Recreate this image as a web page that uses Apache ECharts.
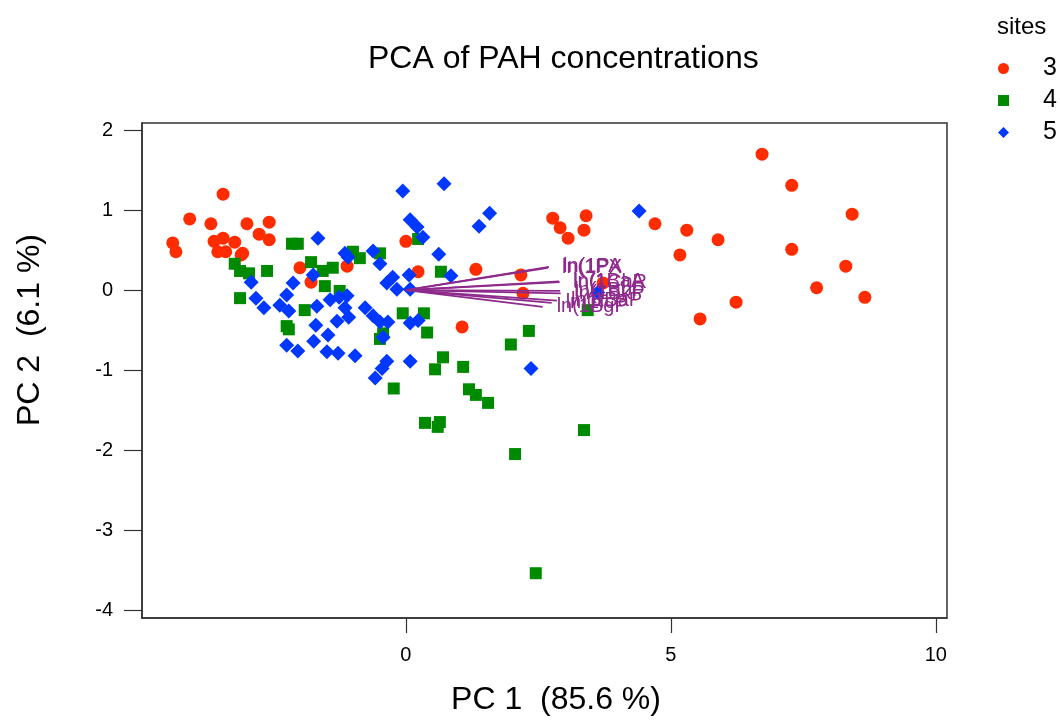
<!DOCTYPE html>
<html lang="en">
<head>
    <meta charset="UTF-8">
    <title>PCA of PAH concentrations</title>
    <script src="https://cdn.jsdelivr.net/npm/echarts@6/dist/echarts.min.js"></script>
    <style>
        html, body { margin: 0; padding: 0; background: #fff; }
        #chart_main { width: 1060px; height: 724px; }
    </style>
</head>
<body>
<div id="chart_main"></div>
<script>
  // site scores (PC1, PC2)
  var site3 = [
    [-4.40, 0.59], [-4.34, 0.48], [-4.08, 0.89], [-3.68, 0.83], [-3.45, 1.20],
    [-3.62, 0.61], [-3.45, 0.65], [-3.23, 0.60], [-3.55, 0.48], [-3.40, 0.48],
    [-3.08, 0.46], [-3.11, 0.44], [-3.00, 0.83], [-2.58, 0.85], [-2.77, 0.70],
    [-2.58, 0.63], [-2.00, 0.28], [-1.79, 0.10], [-1.11, 0.30], [0.00, 0.61],
    [0.23, 0.23], [1.32, 0.26], [2.17, 0.19], [2.21, -0.04], [1.06, -0.46],
    [2.77, 0.90], [2.91, 0.78], [3.06, 0.65], [3.40, 0.93], [3.36, 0.75],
    [3.72, 0.09], [4.70, 0.83], [5.30, 0.75], [5.89, 0.63], [5.17, 0.44],
    [6.72, 1.70], [7.28, 1.31], [8.42, 0.95], [7.28, 0.51], [8.30, 0.30],
    [7.75, 0.03], [8.66, -0.09], [6.23, -0.15], [5.55, -0.36]
  ];
  var site4 = [
    [-3.23, 0.33], [-3.13, 0.24], [-2.96, 0.21], [-2.62, 0.24], [-3.13, -0.10],
    [-2.15, 0.58], [-2.04, 0.58], [-1.79, 0.35], [-1.57, 0.24], [-1.38, 0.28],
    [-1.53, 0.05], [-1.25, -0.01], [-1.00, 0.48], [-0.87, 0.40], [-0.49, 0.46],
    [-1.91, -0.25], [-2.25, -0.45], [-2.21, -0.49], [-0.43, -0.54], [-0.49, -0.61],
    [-0.06, -0.29], [0.34, -0.29], [0.40, -0.53], [0.23, 0.64], [0.66, 0.23],
    [2.32, -0.51], [1.98, -0.68], [0.70, -0.84], [0.55, -0.99], [1.08, -0.96],
    [-0.23, -1.23], [1.19, -1.24], [1.32, -1.31], [1.55, -1.41], [0.36, -1.66],
    [0.64, -1.65], [0.60, -1.71], [3.36, -1.75], [2.06, -2.05], [2.45, -3.54],
    [3.43, -0.25]
  ];
  var site5 = [
    [-0.06, 1.24], [0.72, 1.33], [0.08, 0.88], [0.21, 0.79], [0.32, 0.66],
    [1.58, 0.96], [1.38, 0.80], [0.62, 0.45], [0.85, 0.18], [-1.66, 0.65],
    [-1.15, 0.46], [-1.09, 0.41], [-0.62, 0.49], [-0.49, 0.33], [-1.75, 0.19],
    [-2.92, 0.10], [-2.83, -0.10], [-2.68, -0.22], [-2.38, -0.19], [-2.21, -0.26],
    [-2.25, -0.06], [-2.13, 0.09], [-1.68, -0.20], [-1.43, -0.12], [-1.26, -0.09],
    [-1.11, -0.07], [-1.15, -0.22], [-1.08, -0.34], [-1.30, -0.39], [-1.70, -0.44],
    [-1.47, -0.56], [-1.74, -0.64], [-2.25, -0.69], [-2.04, -0.76], [-1.49, -0.77],
    [-1.28, -0.79], [-0.96, -0.82], [-0.77, -0.22], [-0.62, -0.32], [-0.49, -0.40],
    [-0.34, -0.40], [-0.43, -0.59], [-0.36, -0.89], [-0.45, -0.98], [-0.58, -1.10],
    [0.08, -0.89], [0.08, -0.41], [0.23, -0.38], [-0.25, 0.16], [-0.36, 0.09],
    [-0.17, 0.01], [0.06, 0.19], [0.08, 0.01], [2.36, -0.98], [4.40, 0.99],
    [3.62, -0.03]
  ];

  // loading vectors (arrow tips)
  var loadNames = ['ln(1PA', 'ln(1PX', 'ln(1BaA', 'ln(1ChR', 'ln(1BbF', 'ln(1BkP', 'ln(1BaP', 'ln(1IcP', 'ln(1BgP'];
  var loadTips = [
    [2.70, 0.29], [2.68, 0.28], [2.89, 0.11], [2.90, 0.10], [2.91, -0.01],
    [2.92, -0.04], [2.85, -0.13], [2.75, -0.16], [2.58, -0.21]
  ];

  var siteNames = ['3', '4', '5'];
  var xTicks = [0, 5, 10];
  var yTicks = [-4, -3, -2, -1, 0, 1, 2];

  var FONT = '"Liberation Sans", Arial, sans-serif';
  var PURPLE = '#8e2a8c';

  var myChart = echarts.init(document.getElementById('chart_main'), null, {renderer: 'canvas'});

  var series = [
    {
      name: siteNames[0], type: 'scatter', data: site3,
      symbol: 'circle', symbolSize: 13,
      itemStyle: {color: '#ff2c00', opacity: 1}
    },
    {
      name: siteNames[1], type: 'scatter', data: site4,
      symbol: 'rect', symbolSize: 12,
      itemStyle: {color: '#008a00', opacity: 1}
    },
    {
      name: siteNames[2], type: 'scatter', data: site5,
      symbol: 'diamond', symbolSize: 15,
      itemStyle: {color: '#0038ff', opacity: 1}
    }
  ];

  for (var i = 0; i < loadTips.length; i++) {
    series.push({
      name: loadNames[i],
      type: 'line',
      data: [[0, 0], loadTips[i]],
      symbol: 'none',
      silent: true,
      lineStyle: {color: PURPLE, width: 1.8},
      endLabel: {
        show: true,
        formatter: loadNames[i],
        color: PURPLE,
        fontFamily: FONT,
        fontSize: 20,
        distance: 14
      },
      z: 5
    });
  }

  var option = {
    animation: false,
    backgroundColor: '#fff',
    textStyle: {fontFamily: FONT},
    title: [
      {
        text: 'PCA of PAH concentrations',
        left: 363, top: 38,
        textStyle: {fontFamily: FONT, fontSize: 32, fontWeight: 'normal', color: '#000'}
      },
      {
        text: 'sites',
        left: 992, top: 10,
        textStyle: {fontFamily: FONT, fontSize: 24, fontWeight: 'normal', color: '#000'}
      }
    ],
    legend: {
      data: siteNames,
      orient: 'vertical',
      left: 993, top: 51,
      itemWidth: 11,
      itemHeight: 11,
      itemGap: 7,
      textStyle: {fontFamily: FONT, fontSize: 25, color: '#000', lineHeight: 24, padding: [0, 0, 0, 29]}
    },
    grid: {
      left: 142, right: 113, top: 123, bottom: 106,
      show: true, borderColor: '#333', borderWidth: 1.5, backgroundColor: 'transparent'
    },
    xAxis: {
      type: 'value', min: -4.98, max: 10.21, position: 'bottom',
      splitLine: {show: false},
      axisLine: {show: true, onZero: false, lineStyle: {color: '#333', width: 1.5}},
      axisTick: {show: true, inside: false, length: 15, customValues: xTicks, lineStyle: {color: '#333', width: 1.2}},
      axisLabel: {customValues: xTicks, margin: 27, fontSize: 20, color: '#000', fontFamily: FONT}
    },
    yAxis: {
      type: 'value', min: -4.1, max: 2.09, position: 'left',
      splitLine: {show: false},
      axisLine: {show: true, onZero: false, lineStyle: {color: '#333', width: 1.5}},
      axisTick: {show: true, inside: false, length: 18, customValues: yTicks, lineStyle: {color: '#333', width: 1.2}},
      axisLabel: {customValues: yTicks, margin: 29, fontSize: 20, color: '#000', fontFamily: FONT}
    },
    graphic: [
      {
        type: 'text', x: 556, y: 700,
        style: {text: 'PC 1  (85.6 %)', font: '32px ' + FONT, fill: '#000', textAlign: 'center', textVerticalAlign: 'middle'}
      },
      {
        type: 'text', x: 30, y: 330, rotation: Math.PI / 2,
        style: {text: 'PC 2  (6.1 %)', font: '32px ' + FONT, fill: '#000', textAlign: 'center', textVerticalAlign: 'middle'}
      }
    ],
    series: series
  };
  myChart.setOption(option);
</script>
</body>
</html>
